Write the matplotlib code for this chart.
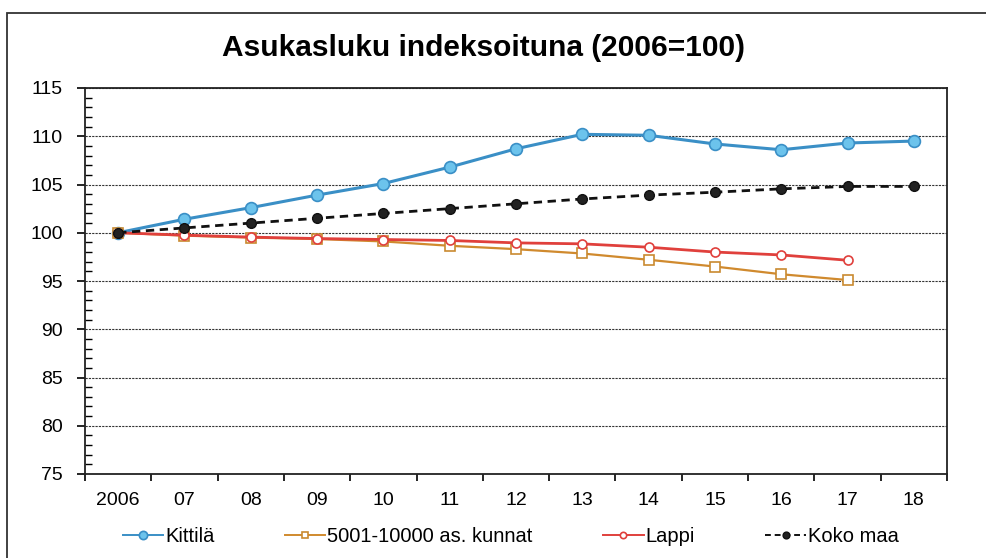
import numpy as np
import matplotlib
matplotlib.use("Agg")
import matplotlib.pyplot as plt
from matplotlib.patches import Rectangle
from matplotlib.ticker import MultipleLocator, FixedLocator

plt.rcParams['font.family'] = ['Liberation Sans', 'DejaVu Sans']

# data
vuodet = ["2006", "07", "08", "09", "10", "11", "12", "13", "14", "15", "16", "17", "18"]
kittila = [100, 101.4, 102.6, 103.9, 105.1, 106.8, 108.7, 110.2, 110.1, 109.2, 108.6, 109.3, 109.5]
kunnat = [100, 99.7, 99.5, 99.35, 99.1, 98.65, 98.3, 97.85, 97.2, 96.5, 95.7, 95.1]
lappi = [100, 99.75, 99.55, 99.4, 99.3, 99.2, 98.95, 98.85, 98.5, 98.0, 97.7, 97.15]
koko_maa = [100, 100.5, 101.0, 101.5, 102.0, 102.5, 103.0, 103.5, 103.9, 104.2, 104.55, 104.8, 104.8]

x = np.arange(len(vuodet))

fig = plt.figure(figsize=(9.86, 5.58), dpi=100)
ax = fig.add_axes([85 / 986, 1 - 474 / 558, (947 - 85) / 986, (474 - 88) / 558])

# outer chart border
fig.patches.append(Rectangle((7 / 986, -0.1), 1.2, 1 - 13 / 558 + 0.1,
                             transform=fig.transFigure, fill=False,
                             edgecolor='#333333', lw=1.3))

ax.plot(x[:len(kittila)], kittila, color='#3a8fc6', lw=2.2, marker='o', ms=8.5,
        mfc='#6cc3ec', mec='#3a8fc6', mew=1.2, label='Kittilä', zorder=3)
ax.plot(x[:len(kunnat)], kunnat, color='#d08a2e', lw=1.6, marker='s', ms=6.5,
        mfc='white', mec='#c98a30', mew=1.2, label='5001-10000 as. kunnat', zorder=3)
ax.plot(x[:len(lappi)], lappi, color='#e0403c', lw=2.0, marker='o', ms=6.5,
        mfc='white', mec='#e0403c', mew=1.2, label='Lappi', zorder=4)
ax.plot(x[:len(koko_maa)], koko_maa, color='#111111', lw=2.0, ls=(0, (3, 2)),
        marker='o', ms=7, mfc='#222222', mec='#111111', label='Koko maa', zorder=5)

ax.set_xlim(-0.5, len(vuodet) - 0.5)
ax.set_ylim(75, 115)

ax.xaxis.set_major_locator(FixedLocator(x))
ax.set_xticklabels(vuodet)
ax.xaxis.set_minor_locator(FixedLocator(np.arange(-0.5, len(vuodet), 1.0)))
ax.tick_params(axis='x', which='major', length=0, pad=13, labelsize=14)
ax.tick_params(axis='x', which='minor', length=5, width=1.2, direction='out')

ax.yaxis.set_major_locator(MultipleLocator(5))
ax.yaxis.set_minor_locator(MultipleLocator(1))
ax.tick_params(axis='y', which='major', length=6, width=1.2, direction='out', pad=10, labelsize=14)
ax.tick_params(axis='y', which='minor', length=5, width=1, direction='in')

ax.grid(axis='y', which='major', color='#333333', lw=0.8, ls=(0, (2, 1)))
for s in ax.spines.values():
    s.set_linewidth(1.3)
    s.set_color('#222222')

fig.text(483 / 986, 1 - 48 / 558, 'Asukasluku indeksoituna (2006=100)',
         ha='center', va='center', fontsize=21.5, fontweight='bold')

leg = fig.legend(loc='center', bbox_to_anchor=(0.518, 1 - 537 / 558), ncol=4,
                 frameon=False, fontsize=14.5, handlelength=2.0, handletextpad=0.1,
                 columnspacing=3.5, markerscale=0.7)
for ln in leg.get_lines():
    ln.set_linewidth(1.4)

fig.savefig('out.png', dpi=100)
